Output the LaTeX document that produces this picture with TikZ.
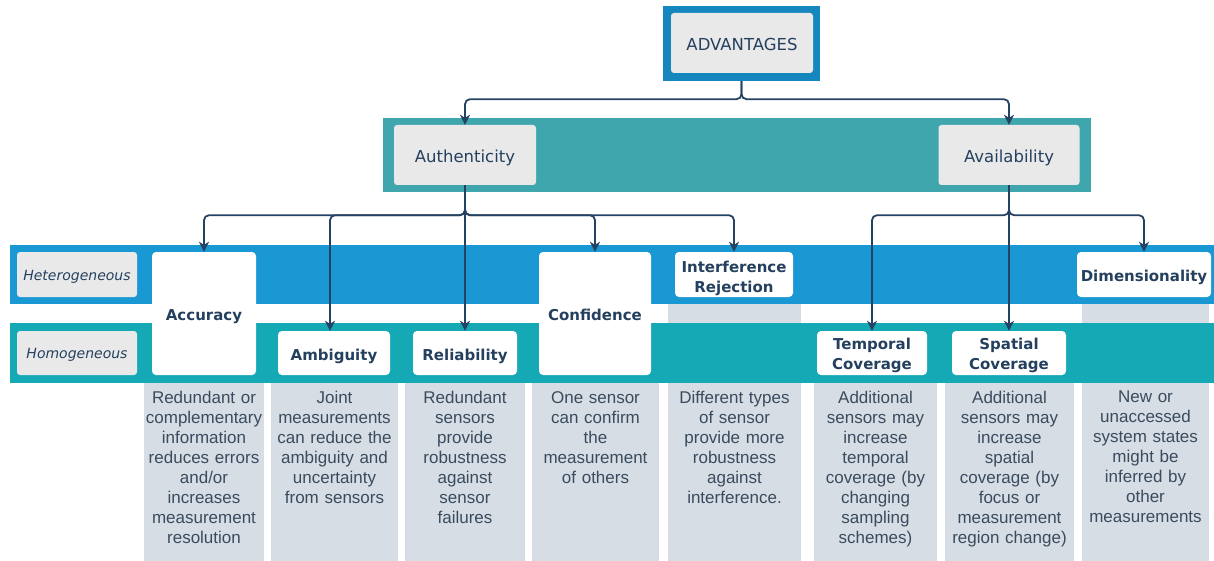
\documentclass[tikz,border=0pt]{standalone}
\usepackage{fontspec}
\setmainfont{DejaVu Sans}
\newfontfamily\descfont{Liberation Sans}
\usetikzlibrary{arrows.meta}
\definecolor{advblue}{RGB}{21,135,190}
\definecolor{authteal}{RGB}{64,166,174}
\definecolor{hetblue}{RGB}{26,152,212}
\definecolor{homteal}{RGB}{20,169,180}
\definecolor{boxgray}{RGB}{233,233,234}
\definecolor{colgray}{RGB}{214,221,228}
\definecolor{labelnavy}{RGB}{36,64,94}
\definecolor{descnavy}{RGB}{58,75,94}
\definecolor{linenavy}{RGB}{36,66,98}
\tikzset{
  advframe/.style= {
    fill = advblue,
    minimum width = 157pt,
    minimum height = 75pt,
    inner sep = 0pt
  },
  topbox/.style= {
    fill = boxgray,
    rounded corners = 3pt,
    text = labelnavy,
    font = \fontsize{16.5}{20}\selectfont,
    text height = 16pt,
    text depth = 0pt,
    minimum width = 142pt,
    minimum height = 60pt,
    inner sep = 0pt
  },
  rowlabel/.style= {
    fill = boxgray,
    rounded corners = 3pt,
    text = labelnavy,
    font = \itshape\fontsize{14}{18}\selectfont,
    text height = 11.5pt,
    text depth = 0pt,
    minimum width = 120pt,
    minimum height = 45pt,
    inner sep = 0pt
  },
  catbox/.style= {
    fill = white,
    rounded corners = 4pt,
    text = labelnavy,
    font = \bfseries\fontsize{15}{20}\selectfont,
    align = center,
    text height = 14pt,
    text depth = 0pt,
    minimum height = 44pt,
    inner sep = 0pt
  },
  twoline/.style= {
    text height = #1,
    text depth = 0pt
  },
  desc/.style= {
    anchor = north,
    text = descnavy,
    font = \descfont\fontsize{17}{20}\selectfont,
    align = center,
    text width = 128pt,
    inner sep = 0pt
  },
  conn/.style= {
    draw = linenavy,
    line width = 1.8pt,
    rounded corners = 5pt,
    -{Stealth[length=10pt,width=10pt,inset=3pt]}
  }
}
\begin{document}
\begin{tikzpicture}[x=1pt,y=-1pt]
  \useasboundingbox (0,0) rectangle (1214,561);

  % description columns, partly under the row bands
  \fill[colgray] (144,383) rectangle (264,561);
  \fill[colgray] (271,383) rectangle (398,561);
  \fill[colgray] (405,383) rectangle (525,561);
  \fill[colgray] (532,383) rectangle (659,561);
  \fill[colgray] (668,304) rectangle (801,561);
  \fill[colgray] (814,383) rectangle (937,561);
  \fill[colgray] (945,383) rectangle (1074,561);
  \fill[colgray] (1082,304) rectangle (1209,561);

  % bands
  \fill[authteal] (383,118) rectangle (1091,192);
  \fill[hetblue] (10,245) rectangle (1214,304);
  \fill[homteal] (10,323) rectangle (1214,383);

  \node[advframe] (advbg) at (741.5,43.5) {};
  \node[topbox] (adv) at (742,43) {ADVANTAGES};

  \node[topbox] (auth) at (465,155) {Authenticity};
  \node[topbox, minimum width=141pt] (avail) at (1009,155) {Availability};

  \node[rowlabel] (het) at (77,274.5) {Heterogeneous};
  \node[rowlabel, minimum height=44pt] (hom) at (77,353) {Homogeneous};

  \node[catbox, minimum width=104pt, minimum height=123pt] (acc) at (204,313.5) {Accuracy};
  \node[catbox, minimum width=112pt] (amb) at (334,353) {Ambiguity};
  \node[catbox, minimum width=104pt] (rel) at (465,353) {Reliability};
  \node[catbox, minimum width=112pt, minimum height=123pt] (conf) at (595,313.5) {Confidence};
  \node[catbox, twoline=36pt, minimum width=118pt, minimum height=45pt] (intf) at (734,274.5) {Interference\\Rejection};
  \node[catbox, twoline=32pt, minimum width=110pt] (temp) at (872,353) {Temporal\\Coverage};
  \node[catbox, twoline=32pt, minimum width=114pt] (spat) at (1009,353) {Spatial\\Coverage};
  \node[catbox, minimum width=134pt, minimum height=45pt] (dim) at (1144,274.5) {Dimensionality};

  \draw[conn] (advbg.south) -- ++(0,18) -| (auth.north);
  \draw[conn] (advbg.south) -- ++(0,18) -| (avail.north);

  \draw[conn] (auth.south) -- ++(0,30) -| (acc.north);
  \draw[conn] (auth.south) -- ++(0,30) -| ([xshift=-4pt]amb.north);
  \draw[conn] (auth.south) -- (rel.north);
  \draw[conn] (auth.south) -- ++(0,30) -| (conf.north);
  \draw[conn] (auth.south) -- ++(0,30) -| (intf.north);

  \draw[conn] (avail.south) -- ++(0,30) -| (temp.north);
  \draw[conn] (avail.south) -- (spat.north);
  \draw[conn] (avail.south) -- ++(0,30) -| (dim.north);

  \node[desc] (accd) at (204,391) {Redundant or\\complementary\\information\\reduces errors\\and/or\\increases\\measurement\\resolution};
  \node[desc] (ambd) at (334.5,391) {Joint\\measurements\\can reduce the\\ambiguity and\\uncertainty\\from sensors};
  \node[desc] (reld) at (465,391) {Redundant\\sensors\\provide\\robustness\\against\\sensor\\failures};
  \node[desc] (confd) at (595.5,391) {One sensor\\can confirm\\the\\measurement\\of others};
  \node[desc] (intfd) at (734.5,391) {Different types\\of sensor\\provide more\\robustness\\against\\interference.};
  \node[desc] (tempd) at (875.5,391) {Additional\\sensors may\\increase\\temporal\\coverage (by\\changing\\sampling\\schemes)};
  \node[desc] (spatd) at (1009.5,391) {Additional\\sensors may\\increase\\spatial\\coverage (by\\focus or\\measurement\\region change)};
  \node[desc] (dimd) at (1145.5,391) {New or\\unaccessed\\system states\\might be\\inferred by\\other\\measurements};
\end{tikzpicture}
\end{document}
